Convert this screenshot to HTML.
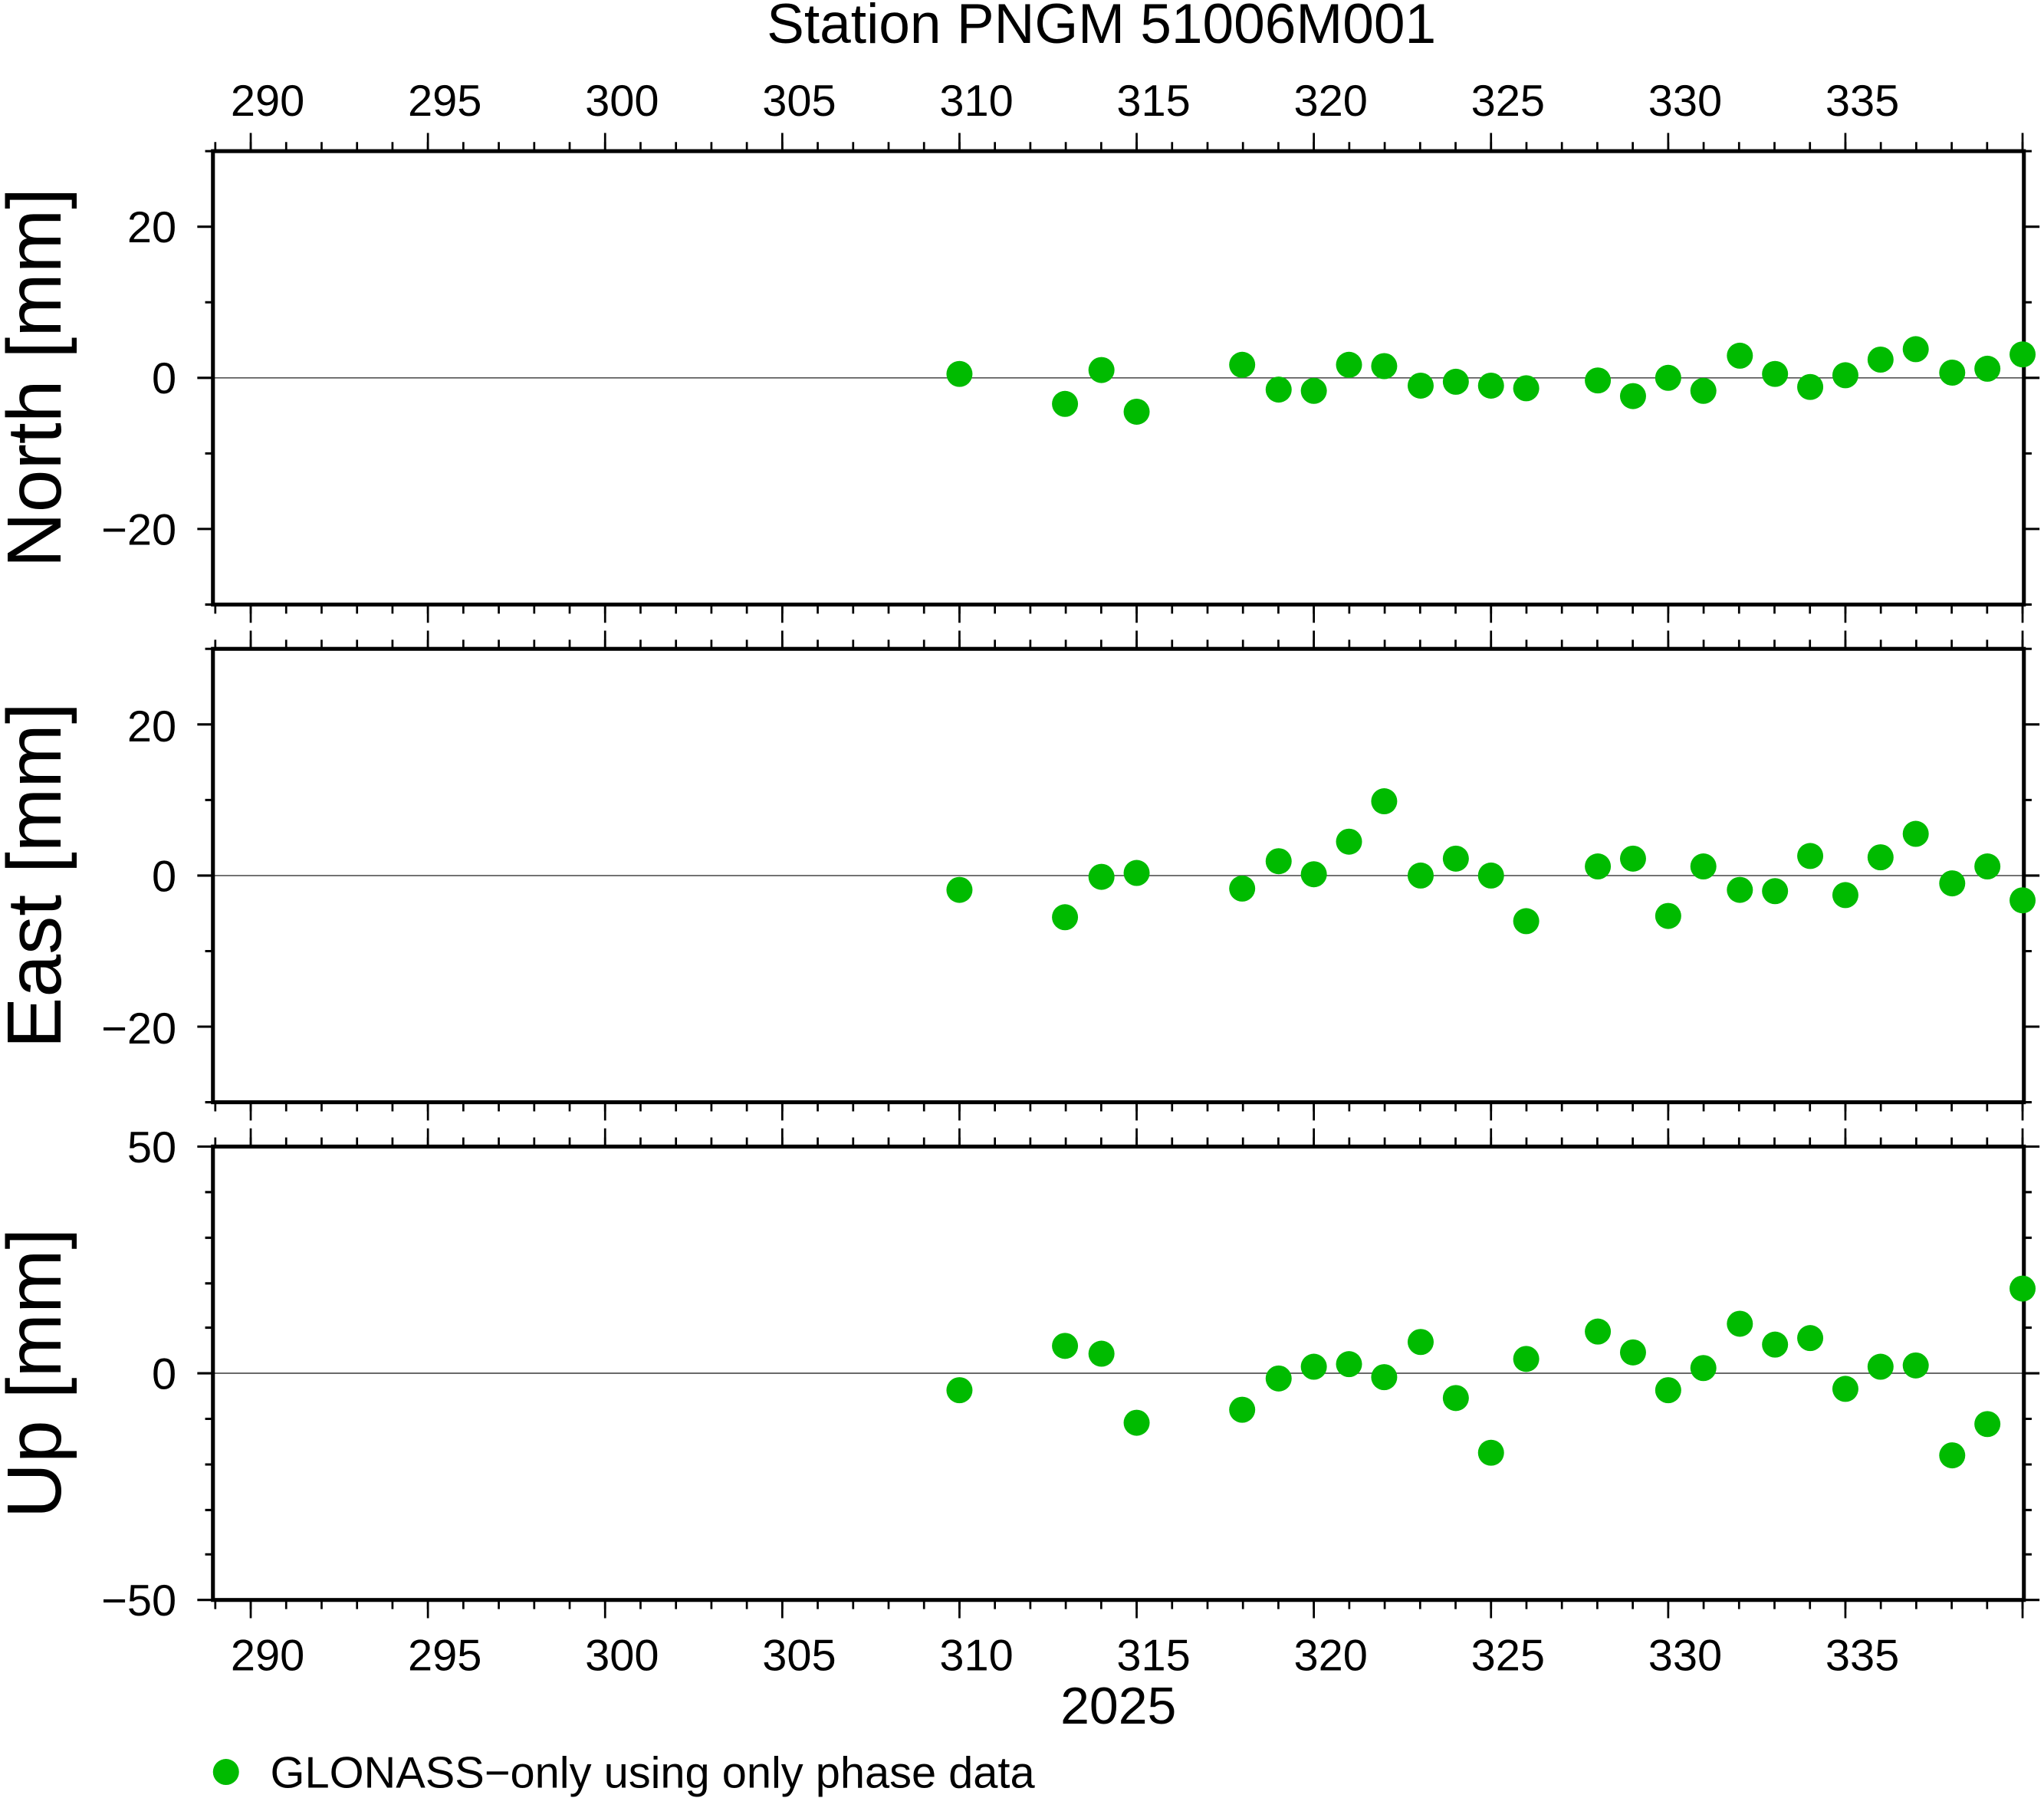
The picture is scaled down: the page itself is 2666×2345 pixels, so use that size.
<!DOCTYPE html>
<html><head><meta charset="utf-8"><style>html,body{margin:0;padding:0;background:#fff}svg{display:block}</style></head><body>
<svg width="2666" height="2345" viewBox="0 0 1568 1380" xmlns="http://www.w3.org/2000/svg" font-family="Liberation Sans, sans-serif">
<rect width="1568" height="1380" fill="#fff"/>
<text x="845" y="33" font-size="43" text-anchor="middle">Station PNGM 51006M001</text>
<g font-size="34" text-anchor="middle">
<text x="205" y="89">290</text><text x="341" y="89">295</text><text x="477" y="89">300</text><text x="613" y="89">305</text><text x="749" y="89">310</text><text x="885" y="89">315</text><text x="1021" y="89">320</text><text x="1157" y="89">325</text><text x="1293" y="89">330</text><text x="1429" y="89">335</text>
<text x="205" y="1282">290</text><text x="341" y="1282">295</text><text x="477" y="1282">300</text><text x="613" y="1282">305</text><text x="749" y="1282">310</text><text x="885" y="1282">315</text><text x="1021" y="1282">320</text><text x="1157" y="1282">325</text><text x="1293" y="1282">330</text><text x="1429" y="1282">335</text>
</g>
<text x="858" y="1323" font-size="40" text-anchor="middle">2025</text>
<g font-size="34" text-anchor="end">
<text x="135" y="186">20</text><text x="135" y="302">0</text><text x="135" y="418">−20</text>
<text x="135" y="569">20</text><text x="135" y="684">0</text><text x="135" y="801">−20</text>
<text x="135" y="892">50</text><text x="135" y="1066">0</text><text x="135" y="1240">−50</text>
</g>
<g font-size="59" text-anchor="middle">
<text transform="translate(46,290) rotate(-90)">North [mm]</text>
<text transform="translate(46,672) rotate(-90)">East [mm]</text>
<text transform="translate(46,1054) rotate(-90)">Up [mm]</text>
</g>
<g stroke="#555" stroke-width="1">
<line x1="163" y1="290" x2="1553" y2="290"/><line x1="163" y1="672" x2="1553" y2="672"/><line x1="163" y1="1054" x2="1553" y2="1054"/>
</g>
<g stroke="#000" fill="none">
<line x1="164" y1="112.5" x2="1556" y2="112.5" stroke-width="7" stroke-dasharray="1.6 25.6"/>
<line x1="191.2" y1="109" x2="1556" y2="109" stroke-width="14" stroke-dasharray="1.6 134.4"/>
<line x1="164" y1="467.5" x2="1556" y2="467.5" stroke-width="7" stroke-dasharray="1.6 25.6"/>
<line x1="191.2" y1="471" x2="1556" y2="471" stroke-width="14" stroke-dasharray="1.6 134.4"/>
<line x1="164" y1="494.5" x2="1556" y2="494.5" stroke-width="7" stroke-dasharray="1.6 25.6"/>
<line x1="191.2" y1="491" x2="1556" y2="491" stroke-width="14" stroke-dasharray="1.6 134.4"/>
<line x1="164" y1="849.5" x2="1556" y2="849.5" stroke-width="7" stroke-dasharray="1.6 25.6"/>
<line x1="191.2" y1="853" x2="1556" y2="853" stroke-width="14" stroke-dasharray="1.6 134.4"/>
<line x1="164" y1="876.5" x2="1556" y2="876.5" stroke-width="7" stroke-dasharray="1.6 25.6"/>
<line x1="191.2" y1="873" x2="1556" y2="873" stroke-width="14" stroke-dasharray="1.6 134.4"/>
<line x1="164" y1="1231.5" x2="1556" y2="1231.5" stroke-width="7" stroke-dasharray="1.6 25.6"/>
<line x1="191.2" y1="1235" x2="1556" y2="1235" stroke-width="14" stroke-dasharray="1.6 134.4"/>
</g>
<g stroke="#000" stroke-width="1.8">
<path d="M157 116H163M157 232H163M157 348H163M157 464H163M1553 116H1559M1553 232H1559M1553 348H1559M1553 464H1559"/>
<path d="M151 174H163M151 290H163M151 406H163M1553 174H1565M1553 290H1565M1553 406H1565"/>
<path d="M157 498H163M157 614H163M157 730H163M157 846H163M1553 498H1559M1553 614H1559M1553 730H1559M1553 846H1559"/>
<path d="M151 556H163M151 672H163M151 788H163M1553 556H1565M1553 672H1565M1553 788H1565"/>
<path d="M157 915H163M157 950H163M157 985H163M157 1019H163M157 1089H163M157 1124H163M157 1159H163M157 1193H163M1553 915H1559M1553 950H1559M1553 985H1559M1553 1019H1559M1553 1089H1559M1553 1124H1559M1553 1159H1559M1553 1193H1559"/>
<path d="M151 880H163M151 1054H163M151 1228H163M1553 880H1565M1553 1054H1565M1553 1228H1565"/>
</g>
<g fill="none" stroke="#000" stroke-width="3">
<rect x="163" y="116" width="1390" height="348"/>
<rect x="163" y="498" width="1390" height="348"/>
<rect x="163" y="880" width="1390" height="348"/>
</g>
<g fill="#00bb00">
<circle cx="736" cy="287" r="10"/><circle cx="817" cy="310" r="10"/><circle cx="845" cy="284" r="10"/><circle cx="872" cy="316" r="10"/><circle cx="953" cy="280" r="10"/><circle cx="981" cy="299" r="10"/><circle cx="1008" cy="300" r="10"/><circle cx="1035" cy="280" r="10"/><circle cx="1062" cy="281" r="10"/><circle cx="1090" cy="296" r="10"/><circle cx="1117" cy="293" r="10"/><circle cx="1144" cy="296" r="10"/><circle cx="1171" cy="298" r="10"/><circle cx="1226" cy="292" r="10"/><circle cx="1253" cy="304" r="10"/><circle cx="1280" cy="290" r="10"/><circle cx="1307" cy="300" r="10"/><circle cx="1335" cy="273" r="10"/><circle cx="1362" cy="287" r="10"/><circle cx="1389" cy="297" r="10"/><circle cx="1416" cy="288" r="10"/><circle cx="1443" cy="276" r="10"/><circle cx="1470" cy="268" r="10"/><circle cx="1498" cy="286" r="10"/><circle cx="1525" cy="283" r="10"/><circle cx="1552" cy="272" r="10"/>
<circle cx="736" cy="683" r="10"/><circle cx="817" cy="704" r="10"/><circle cx="845" cy="673" r="10"/><circle cx="872" cy="670" r="10"/><circle cx="953" cy="682" r="10"/><circle cx="981" cy="661" r="10"/><circle cx="1008" cy="671" r="10"/><circle cx="1035" cy="646" r="10"/><circle cx="1062" cy="615" r="10"/><circle cx="1090" cy="672" r="10"/><circle cx="1117" cy="659" r="10"/><circle cx="1144" cy="672" r="10"/><circle cx="1171" cy="707" r="10"/><circle cx="1226" cy="665" r="10"/><circle cx="1253" cy="659" r="10"/><circle cx="1280" cy="703" r="10"/><circle cx="1307" cy="665" r="10"/><circle cx="1335" cy="683" r="10"/><circle cx="1362" cy="684" r="10"/><circle cx="1389" cy="657" r="10"/><circle cx="1416" cy="687" r="10"/><circle cx="1443" cy="658" r="10"/><circle cx="1470" cy="640" r="10"/><circle cx="1498" cy="678" r="10"/><circle cx="1525" cy="665" r="10"/><circle cx="1552" cy="691" r="10"/>
<circle cx="736" cy="1067" r="10"/><circle cx="817" cy="1033" r="10"/><circle cx="845" cy="1039" r="10"/><circle cx="872" cy="1092" r="10"/><circle cx="953" cy="1082" r="10"/><circle cx="981" cy="1058" r="10"/><circle cx="1008" cy="1049" r="10"/><circle cx="1035" cy="1047" r="10"/><circle cx="1062" cy="1057" r="10"/><circle cx="1090" cy="1030" r="10"/><circle cx="1117" cy="1073" r="10"/><circle cx="1144" cy="1115" r="10"/><circle cx="1171" cy="1043" r="10"/><circle cx="1226" cy="1022" r="10"/><circle cx="1253" cy="1038" r="10"/><circle cx="1280" cy="1067" r="10"/><circle cx="1307" cy="1050" r="10"/><circle cx="1335" cy="1016" r="10"/><circle cx="1362" cy="1032" r="10"/><circle cx="1389" cy="1027" r="10"/><circle cx="1416" cy="1066" r="10"/><circle cx="1443" cy="1049" r="10"/><circle cx="1470" cy="1048" r="10"/><circle cx="1498" cy="1117" r="10"/><circle cx="1525" cy="1093" r="10"/><circle cx="1552" cy="989" r="10"/>
<circle cx="173" cy="1360" r="10"/>
</g>
<text x="207" y="1372" font-size="34">GLONASS−only using only phase data</text>
</svg>
</body></html>
